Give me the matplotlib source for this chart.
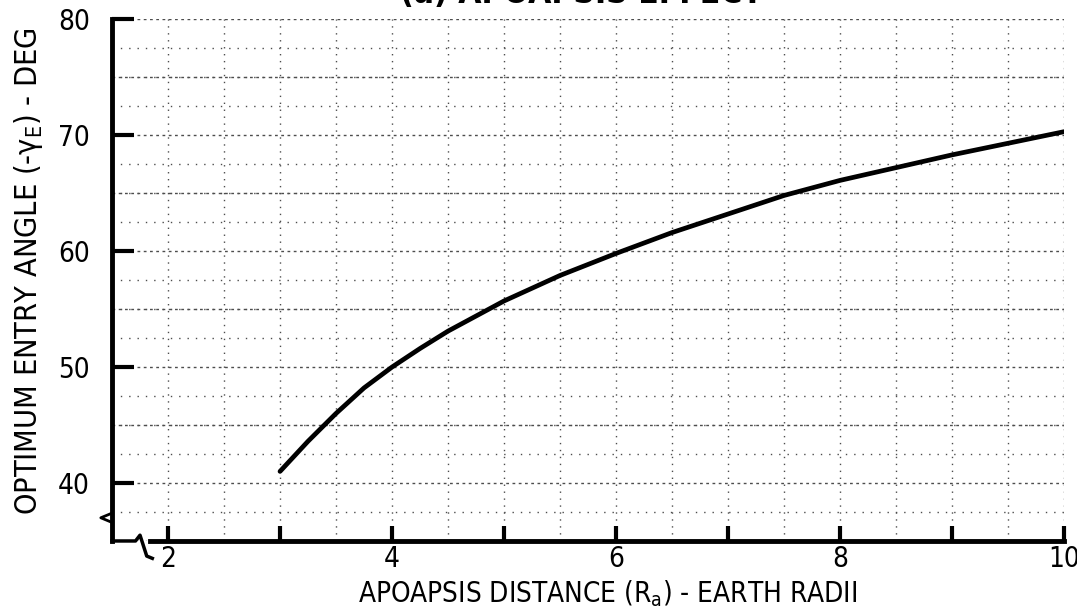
import numpy as np
import matplotlib
matplotlib.use('Agg')
import matplotlib.pyplot as plt
from matplotlib.ticker import MultipleLocator, FuncFormatter

plt.rcParams['font.family'] = ['Liberation Sans Narrow', 'DejaVu Sans']
plt.rcParams['font.stretch'] = 'condensed'
plt.rcParams['mathtext.default'] = 'regular'

# data
apoapsis = [3.0, 3.25, 3.5, 3.75, 4.0, 4.25, 4.5, 4.75, 5.0, 5.5, 6.0, 6.5,
            7.0, 7.5, 8.0, 8.5, 9.0, 9.5, 10.0]
entry_angle = [41.0, 43.6, 46.0, 48.2, 50.0, 51.6, 53.1, 54.4, 55.7, 57.9, 59.8, 61.6,
               63.2, 64.8, 66.1, 67.2, 68.3, 69.3, 70.3]

x_labels = [2, 4, 6, 8, 10]
y_labels = [40, 50, 60, 70, 80]

fig = plt.figure(figsize=(10.77, 6.16), dpi=100)
ax = fig.add_axes([0.104, 0.1218, 0.884, 0.847])

ax.plot(apoapsis, entry_angle, color='black', lw=3.4, solid_capstyle='round',
        solid_joinstyle='round')

ax.set_xlim(1.5, 10)
ax.set_ylim(35, 80)

# ticks: every integer on bottom, labels only on even ones
ax.xaxis.set_major_locator(MultipleLocator(1))
ax.xaxis.set_major_formatter(FuncFormatter(lambda v, p: '%d' % v if int(round(v)) in x_labels else ''))
ax.xaxis.set_minor_locator(MultipleLocator(0.5))
ax.set_yticks(y_labels)
ax.yaxis.set_minor_locator(MultipleLocator(2.5))

ax.tick_params(axis='x', which='major', direction='in', length=11, width=3, pad=3, labelsize=20)
ax.tick_params(axis='y', which='major', direction='in', length=16, width=3, pad=16, labelsize=20)
ax.tick_params(which='minor', length=0)

# dotted graph-paper grid
gc = '0.3'
ax.grid(True, which='both', axis='x', color=gc, lw=1.0, ls=(0, (1, 4)))
ax.grid(True, which='major', axis='y', color=gc, lw=1.0, ls=(0, (2, 2.5)))
ax.grid(True, which='minor', axis='y', color=gc, lw=1.0, ls=(0, (1, 5)))
for yv in [45, 55, 65, 75]:
    ax.axhline(yv, color=gc, lw=1.0, ls=(0, (2, 2.5)), zorder=0.5)

for s in ['top', 'right']:
    ax.spines[s].set_visible(False)
ax.spines['left'].set_linewidth(3.5)
ax.spines['bottom'].set_linewidth(3.5)
ax.spines['bottom'].set_bounds(1.84, 10)

# axis break squiggle at the lower left corner
ax.plot([1.5, 1.71, 1.75, 1.78, 1.81, 1.86], [35, 35, 35.5, 34.6, 33.7, 33.5],
        color='black', lw=2.5, clip_on=False)
ax.plot([1.5, 1.4, 1.5], [37.4, 37.0, 36.6], color='black', lw=2, clip_on=False)

fig.text(0.54, 0.984, '(a) APOAPSIS EFFECT', ha='center', va='bottom',
         fontsize=24, fontweight='bold')
fig.text(0.564, 0.012, 'APOAPSIS DISTANCE (R$_a$) - EARTH RADII', ha='center', va='bottom',
         fontsize=20)
fig.text(0.026, 0.56, 'OPTIMUM ENTRY ANGLE (-γ$_E$) - DEG', ha='center', va='center',
         rotation=90, fontsize=22)

fig.savefig('out.png', dpi=100)
